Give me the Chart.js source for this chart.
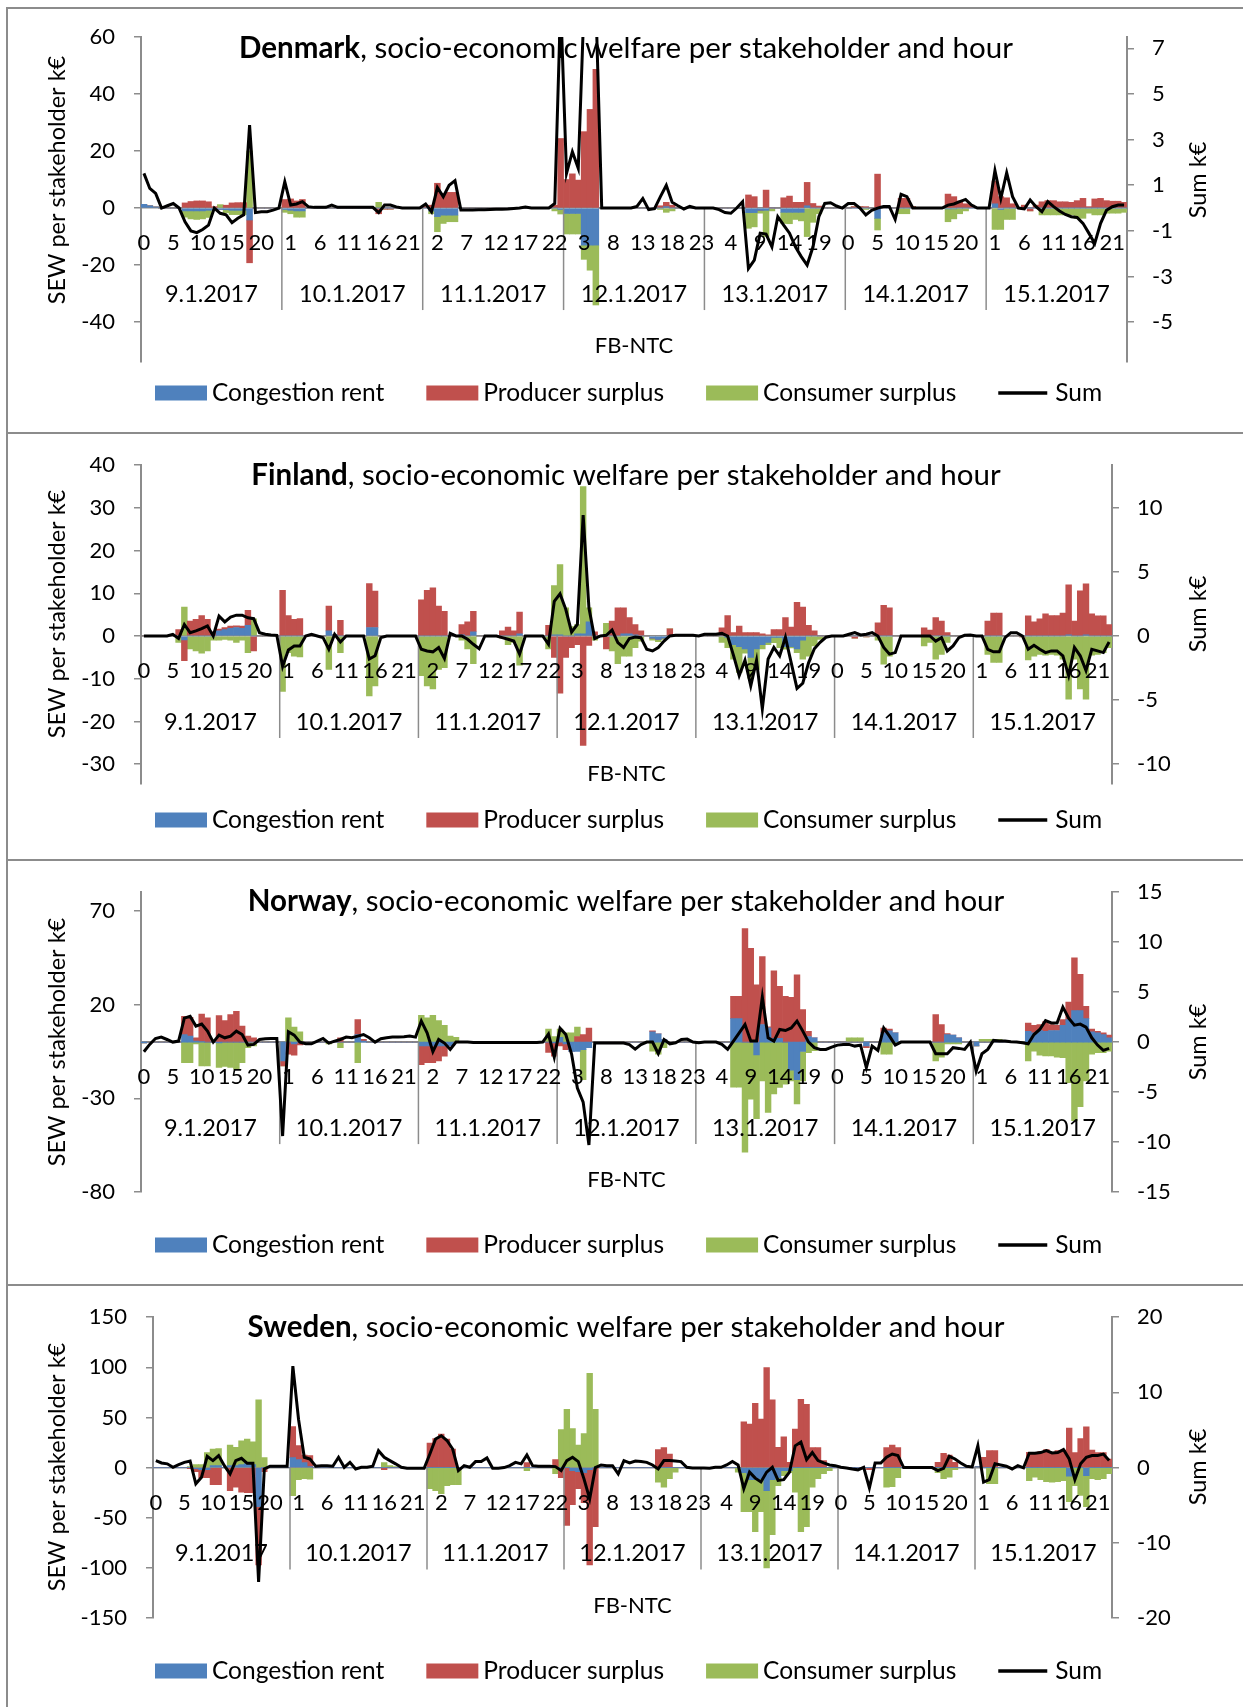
<!DOCTYPE html>
<html>
<head>
<meta charset="utf-8">
<script src="https://cdn.jsdelivr.net/npm/chart.js@4.4.1/dist/chart.umd.min.js"></script>
<style>
    html, body { margin: 0; padding: 0; background: #fff; }
    #page { position: relative; width: 1243px; height: 1707px; overflow: hidden; }
    #page canvas { position: absolute; left: 0; }
    .rule { position: absolute; background: #8c8c8c; }
</style>
</head>
<body>
<div id="page"></div>
<script>
// Kategoriler: 7 gün x 24 saat
const days = ['9.1.2017', '10.1.2017', '11.1.2017', '12.1.2017', '13.1.2017', '14.1.2017', '15.1.2017'];
const hourLabels = ['0','1','2','3','4','5','6','7','8','9','10','11','12','13','14','15','16','17','18','19','20','21','22','23'];
const seriesNames = ['Congestion rent', 'Producer surplus', 'Consumer surplus', 'Sum'];
const axisCaption = 'FB-NTC';
const titleRest = ', socio-economic welfare per stakeholder and hour';
const leftAxisTitle = 'SEW per stakeholder k€';
const rightAxisTitle = 'Sum k€';

// Eksen etiketleri
const dkLeftTicks = [60, 40, 20, 0, -20, -40];
const dkRightTicks = [7, 5, 3, 1, -1, -3, -5];
const fiLeftTicks = [40, 30, 20, 10, 0, -10, -20, -30];
const fiRightTicks = [10, 5, 0, -5, -10];
const noLeftTicks = [70, 20, -30, -80];
const noRightTicks = [15, 10, 5, 0, -5, -10, -15];
const swLeftTicks = [150, 100, 50, 0, -50, -100, -150];
const swRightTicks = [20, 10, 0, -10, -20];

// Denmark
const dkCongestion = [
    1.3,0.8,0.4,0,0,0,0,-1,-1,-1,-1,-0.8,-0.5,-0.5,-0.6,-0.8,-0.8,-0.8,-4.2,0,0,0,0,0,
    -0.5,-0.8,-1,-1,0,0,0,0,0,0,0,0,0,0,0,0,0,0,0,0,0,0,0,0,
    0,-1,-3,-2.5,-2.5,-2.5,0,0,0,0,0,0,0,0,0,0,0,0,0,0,0,0,0,-0.5,
    -1.9,-1.9,-1.9,-13,-13,-13,0,0,0,0,0,0,0,0,0,0,0,0.5,0,0,0,0,0,0,
    0,0,0,0,0,0,0,-1.6,-1.6,-0.8,-0.8,0,0,-1.5,-1.5,-1.5,-1.5,0.8,0,0,0,0,0,0,
    0,0,0,0,0,-3.6,0,0,0,0,0,0,0,0,0,0,0,-0.3,-0.3,0,0,0,0,0,
    0,1.5,-0.5,0,0,0,0,0,0,0,0,0,0,0,0,0,0,0,0,0,0,0,0,0
];
const dkProducer = [
    0,0,0,0,0,0,0,1.8,2.3,2.5,2.5,2.2,0.5,0,1,1.8,1.9,1.9,-15,0,0,0,0,0,
    3,3.2,2.5,3,0,0,0,0,0,0,0,0,0,0,0,0,-2,-0.4,-0.4,0,0,0,0,0,
    0.5,1,8.7,5,5.5,5.5,0,0,0,0,0,0,0,0,0,0,0,0,0,0,0,0,1,24.4,
    10,12,9.8,26.8,34.6,48.7,0,0,0,0,0,0,0,0,0,0,0.8,1.5,1,0,0,0,0,0,
    0,0,0,0,0,0,0,4.6,4,0,6.3,0,0,3.6,4.2,2,2,8.2,1.6,0.7,0,0,0,0,
    0,0.5,0.5,0.5,0,11.9,0,0,0,3.4,3.4,0.5,0,0,0,0,0,4.9,4,2.5,1.5,1,0,0,
    0,8,4,3.6,1.5,0,1,-1,1,2.2,2.6,2.6,2.2,2.2,2,2.6,3.4,0.5,3.2,3.4,2.6,2.4,2.4,2
];
const dkConsumer = [
    0,0,0,0,0,0,0,-2.2,-2.8,-3,-2.8,-2.5,0,1.2,-1,-1.5,-1.5,-1.5,20,0,0,0,0,0,
    -1,-1.2,-2.2,-2.2,0,0,0,0,0,0,0,0,0,0,0,0,2,0,0,0,0,0,0,0,
    0,-1,-5.3,-2.9,-2.3,-2.3,0,0,0,0,0,0,0,0,0,0,0,0,0,0,0,0,-1,-1.6,
    -7.2,-7.2,-7.2,-5,-8.8,-21,0,0,0,0,0,0,0,0,0,0,-0.5,-1.5,-1,0,0,0,0,0,
    0,0,0,0,0,0,0,-5.5,-5,-1,-9.2,-1,0,-3.9,-4,-2.5,-3,-10,-5,-2,0,0,0,0,
    0,0,0,-0.5,0,-4.1,0,0,0,-2,-2,0,0,0,0,0,0,-4.5,-3.5,-2,-1,0,0,0,
    0,-7.5,-7,-4,-4,0,0,0,0,-2.4,-2.4,-2.4,-2.4,-2.4,-2.4,-3.6,-3.6,-1.8,-2.4,-2.4,-1.8,-1.8,-1.8,-1.5
];
const dkSum = [
    1.52,0.86,0.64,0,0.1,0.2,0,-0.6,-1.0,-1.08,-0.94,-0.75,0,-0.23,-0.3,-0.64,-0.45,-0.3,3.64,-0.2,-0.16,-0.16,-0.09,0,
    1.15,0.13,0.18,0.28,0.06,0.03,0.03,0.03,0.13,0.03,0.03,0.03,0.03,0.03,0.03,0.03,-0.2,0.13,0.13,0.05,0,0,0,0,
    0.18,-0.16,0.9,0.5,1.0,1.2,-0.08,-0.08,-0.08,-0.07,-0.07,-0.06,-0.05,-0.05,-0.04,-0.02,0,0.05,0,0,0,0,0.2,9,
    1.52,2.47,1.74,9,10,9,0,0,0,0,0,0,0.07,0.42,-0.07,-0.03,0.5,1.0,0.25,0.1,-0.04,0.07,0,0,
    0,0,-0.07,-0.2,-0.23,0,0.28,-2.65,-2.28,-1.1,-1.14,-1.7,-0.38,-0.75,-1.1,-1.7,-2.13,-2.5,-1.7,-0.38,0.2,0.23,0.09,0,
    0.2,0.2,0,-0.3,-0.1,0,0.07,0.07,-0.5,0.6,0.5,0,0,0,0,0,0,0.13,0.18,0.28,0.38,0.13,0,0,
    0,1.64,0.42,1.55,0.5,0,-0.04,0.35,0.06,-0.16,0.28,0.06,-0.13,-0.28,-0.38,-0.41,-0.67,-1.1,-1.55,-0.67,-0.1,0.06,0.13,0.13
];

// Finland
const fiCongestion = [
    0,0,0,0,0,0,0,-0.9,0,0,0,0,0,1.2,1.5,1.8,2,1.8,2.5,0,0,0,0,0,
    0,0,0,0,0,0,0,0,1.2,0.3,0,0,0,0,0,2,2,0,0,0,0,0,0,0,
    0,0,0,0,0,0,0,0.3,0,1,0,0,0,0,0,0,0,0.5,0,0,0,0,0,0.3,
    0.3,0,0,0.5,0.5,3.3,0,0,0,0,0,0.5,0.5,0.3,0,0,-0.5,-0.8,-0.5,0,0,0,0,0,
    0,0,0,0,0,-0.3,-2,-2.5,-3,-5,-3,-2,-1.5,-0.3,-0.3,-2.5,-2.5,-3,-1,0,0,0,0,0,
    0,0,0,0,0,0,0,0,0,0,0,0,0,0,0,0,0,0,0,0,0,0,0,0,
    0,0,0,0,0,0,0,0,0,0,0,0,0,0,0,0,0.3,0,0,0.3,0,0,0,0
];
const fiProducer = [
    0,0,0,0,0,0,1.5,-4.9,3.5,3.9,4.8,3.9,1,0.4,0.5,0.5,0.4,0.5,3.5,-3.5,0,0,0,0,
    10.7,4.8,3.9,4.1,0,0,0,0,5.8,0,3.7,0,0,0,0,10.3,8.5,0,0,0,0,0,0,0,
    8.5,10.7,11.3,7,5.8,0,0,2.4,3.3,4.8,0,0,0,0,1.2,2.1,1.2,5.1,0,0,0,0,2.5,-5,
    -13.4,-5,-2.7,-2,-25.6,-2.2,1,0,-3,3.5,6.6,6.1,3.8,2.4,1.2,0,0,0,0,1.7,0,0,0,0,
    0,0,0,0,1.9,4.8,0.8,2.3,0.8,0.8,0.8,0.5,0.3,1.5,1.5,4.3,2.1,7.9,6.8,2.5,1.2,0,0,0,
    0,0,0,-0.5,0,-0.2,0,3.1,7.2,6.6,0,0,0,0,0,1.9,1.4,4.3,3.5,0.8,0,0,0,0,
    0,0,3.5,5.4,5.4,0,0,0,-0.2,4.7,3.3,4,5.2,4.8,4.8,5.4,11.7,3.5,10.6,11.9,5.2,4.7,4.7,2.7
];
const fiConsumer = [
    0,0,0,0,0,0,-1.5,6.8,-3,-3.5,-4,-3.5,-1,-1,-0.8,-1,-1.5,-1,-3.9,4,0,0,0,0,
    -13,-3.9,-4.7,-4.9,0,0,0,0,-7.8,0,-3.9,0,0,0,0,-14,-11.7,0,0,0,0,0,0,0,
    -9.3,-11.7,-12.4,-7.8,-7.4,0,0,-1,-3,-6.5,0,0,0,0,-0.5,-2,-1.5,-6.8,0,0,0,0,-3,11.5,
    16.4,6.6,2.2,2.2,34.5,3.3,-1,0,3,-3.5,-6.5,-4.7,-4.7,-2.7,-1.2,0,-0.5,-0.5,-0.3,0,0,0,0,0,
    0,0,0,0,-1.5,-2.4,-3.4,-6,-1,-5,-4.8,-1,-0.5,-1.25,-2.4,-0.6,-0.3,-0.9,-4.4,-4.7,-2.3,-0.8,0,0,
    0,0,0,0,0,0,0,-1,-6.6,-4.7,0,0,0,0,0,-2.3,-1.5,-5.4,-4.3,-1.5,0,0,0,0,
    0,0,-4.3,-6.2,-6.2,0,0,0,0,-5.6,-4.7,-4.3,-4.5,-4.3,-4.5,-5.4,-14.8,-5.4,-12.4,-14.8,-4.5,-4.3,-3.9,-2.7
];
const fiSum = [
    0,0,0,0,0,0.13,-0.2,0.9,0.26,0.4,0.57,0.78,0,1.55,1.1,1.48,1.63,1.63,1.42,1.35,0.26,0.13,0.08,0.05,
    -2.38,-1.09,-0.78,-0.78,0,0.13,0,-0.13,-1.04,0.13,-0.47,0,0,0,0,-1.8,-1.55,-0.13,0,0,0,0,0,0,
    -1.04,-1.17,-1.24,-0.9,-1.76,0.2,0,0,-0.26,-0.65,-1.0,0,0,0,-0.13,-0.26,-0.4,-1.42,0,0,0,0,-0.65,2.7,
    3.3,2.07,0.3,0.9,9.46,2.2,-0.2,0,0.05,0.47,-0.52,-0.9,-0.2,-0.08,-0.13,-1.04,-1.17,-0.9,-0.4,0,0.05,0.05,0.05,0.05,
    0,0.13,0.13,0.13,0.2,0,-1.5,-3.1,-1.9,-3.9,-1.9,-5.7,-1.8,-0.9,-1.55,-0.1,-2.1,-4.1,-3.7,-2.1,-1.0,-0.5,-0.1,0,
    0,0,0.13,0.26,0.08,0.13,0.26,0,-0.9,-1.42,-1.3,0,0,0,0,0,0,-0.4,-0.13,-1.17,-0.78,-0.13,0.05,0.08,
    0,0,-1.04,-1.24,-1.24,-0.13,0.26,0.26,0,-1.04,-0.73,-1.04,-1.3,-1.17,-1.17,-1.55,-3.1,-0.9,-1.55,-2.7,-1.04,-1.17,-1.3,-0.47
];

// Norway
const noCongestion = [
    -0.5,0,0,0,0,0,0,4,3.2,0.5,0.3,0,0,-0.5,0,0,0,0,0,0,0,0,0,0,
    -10,0,-1,0,0,0,0,0,0,0,0,0,0,4,0.5,0,0,0,0,0,0,0,0,0,
    -2,-2,-2,-2,-2,-2,0,0,0,0,0,0,0,0,0,0,0,0,0,0,0,0,0,-0.5,
    2.5,-1,-5,-5,-4,-3,0,0,0,0,0,0,0,0,0,0,5.5,4.4,1.4,0,0,0,0,0,
    0,0,0,0,0,0,12.5,12.5,0,0,-6.9,9.4,7.6,2,2,0,-15,-20,-5,3,2.3,0,0,0,
    0,0,0,0,0,-2,0,0,5,6,5,0,0,0,0,0,0,0,0,4,3.7,2.3,0,0,
    -2,0,0,0,0,0,0,0,0,5.8,5,6.2,5.8,6.2,6.2,9,12,16.8,16.8,12.5,5.5,4.9,4,2.3
];
const noProducer = [
    0,0,0,0,0,0,0,9.8,10,1.8,14.7,12.9,0,14.1,11.5,14.7,16.4,8.5,3.2,2.3,0,0,0,0,
    -2.7,-6.5,-6,-1.5,0,0,0,0,0,0,2.3,0,0,8,1,0,0,0,0,0,0,0,0,0,
    -10,-9,-9,-8,-5.5,0,0,0,0,0,0,0,0,0,0,0,0,0,0,0,0,0,-5.5,-7,
    -2,-3,0,3,4,7.5,0,0,0,0,0,0,0,0,0,0,0.5,0,0,0,0,0,0,0,
    0,0,0,0,0,0,11.9,11.9,60.6,50,30.6,36.2,0.5,36,27.7,24.4,23.9,35.9,17.3,2.8,0,0,0,0,
    0,0,0,0,0,-1,0,0,2.5,1,0,0,0,0,0,0,0,14.7,9.4,0.5,0,0,0,0,
    0,0,0,0,0,0,0,0,0,4.4,4,3.2,5.2,3.2,2.8,3,9.4,28.2,19.4,6.6,1.5,0.9,0.9,1.4
];
const noConsumer = [
    0,0,0,0,0,0,0,-11,-11,-1,-12.7,-12.7,0,-13,-13,-13.5,-14.5,-11,-3,-2,0,0,0,0,
    0,12.9,8,5.5,0,0,0,0,-1,0,-3,0,0,-11,0,0,0,0,0,0,0,0,0,0,
    14.3,12.9,14.3,11.5,9,3.2,2.6,0,0,0,0,0,0,0,0,0,0,0,0,0,0,0,7,3,
    4.5,5,5,5,-16,0,0,0,0,0,0,0,0,0,0,0,-4.8,-6.5,-3,0,0,0,0,0,
    0,0,0,0,0,0,-24,-24,-58.7,-30.4,-34,-20.7,-37.5,-27.7,-24.2,-22.4,-5.7,-13,-15.7,-5.7,-4.6,0,0,0,
    0,0,2.3,2.3,2.3,0,0,0,-6.5,-6.5,-1,0,0,0,0,0,0,-10,-8,-1,-1,-1,0,0,
    0,1.5,1.5,1.5,1.5,0,0,0,0,-10,-4.8,-7,-7.4,-7.4,-8,-8.3,-21.6,-41.9,-34.5,-20.7,-6.5,-5.7,-5.7,-4.8
];
const noSum = [
    -0.96,-0.23,0.36,0.5,0.26,0,0.1,2.4,2.58,1.6,1.8,1.1,0,0.7,0.43,0.6,1.1,0.76,-0.3,-0.23,0.26,0.33,0.36,0.36,
    -9.4,1.03,0.7,0,-0.17,-0.17,0.1,0.36,-0.1,0.1,0.26,0.5,0.43,0.6,0.76,0.43,0,0.33,0.43,0.5,0.5,0.53,0.6,0.5,
    2.1,0.93,-0.96,0.26,-0.1,-0.73,0,0,0,-0.05,-0.05,-0.05,-0.05,-0.05,-0.05,-0.05,-0.05,-0.05,-0.05,-0.05,-0.05,0,0.8,-1.5,
    1.4,0.76,-1.2,-4.6,-6,-10.3,-0.1,-0.1,-0.1,-0.1,-0.1,-0.1,-0.25,-0.7,-0.25,0,0,-1.15,0.26,-0.17,-0.07,0.26,0.3,0,
    -0.07,0,0,0,-0.23,-0.73,0.1,0.93,1.75,0.1,0.1,4.5,0.43,0.1,1.26,1.16,1.42,2.1,1.1,0,-0.56,-0.73,-0.73,-0.5,
    -0.3,-0.23,-0.23,-0.4,-0.3,-2.55,-0.4,-0.83,1.42,0.6,-0.3,0,0,0,0,0,0,-1.16,-1.16,-1.16,-0.56,-0.63,-0.73,0,
    -2.9,-1.16,-0.73,0.17,0.1,0.1,0.03,0,-0.07,-0.17,0.76,1.26,2.15,1.92,1.92,3.5,2.4,1.7,1.8,1.5,0.43,-0.3,-0.83,-0.63
];

// Sweden
const swCongestion = [
    0,0,0,0,0,0,0,-1,-2,-2,2,2,0,2,2,3,4,3,-39,0,0,0,0,0,
    10,8,5,1,0,0,0,0,0,0,0,0,0,0,0,0,0,0,0,0,0,0,0,0,
    0,0,0,0,0,0,0,0,0,0,0,0,0,0,0,0,0,0,0,0,0,0,0,0,
    0,-3,-4,-5,-2,0,0,0,0,0,0,0,0,0,0,0,0,0,0,0,0,0,0,0,
    0,0,0,0,0,0,0,-5,-12,-12,-11,-23,-12,-10,-3,-3,0,0,0,0,0,0,0,0,
    0,0,0,0,0,0,0,0,0,0,0,0,0,0,0,0,0,0,0,0,0,0,0,0,
    1,0,0,0,0,0,0,0,0,0,0,0,0,0,0,0,-8.6,0,0,-8,0,0,0,0
];
const swProducer = [
    0,0,0,0,0,0,-1,-3,-8,-8,-17,-17,0,-23,-19.5,-24.5,-25,-25,-58,-4,0,0,0,0,
    31,14,7.5,11,0,0,0,0,0,0,0,0,0,0,0,0,-2,0,0,0,0,0,0,0,
    24.5,29,33.4,28.5,18.5,0,0,0,0,0,0,0,0,0,0,0,0,5,0,0,0,0,8,-10,
    -57.6,-34,-17,-30,-95,-59,0,0,0,0,0,0,0,0,0,0,18,20,13.6,0,0,0,0,0,
    0,0,0,0,0,0,0,45.7,43.4,64.2,48.3,99.7,67.5,20.2,30.8,5.3,38.4,68,63.2,20,20,7,0,0,
    0,0,0,0,0,-2,0,0,20,22.5,20,0,0,0,0,0,0,5.3,14.2,12.6,5.3,0,0,0,
    0,10.3,17,17,0,0,0,0,0,15.2,15,15.9,17.9,15,16.9,17.5,39.4,15,29,40.7,17.5,15,15,8.6
];
const swConsumer = [
    0,0,0,0,0,0,1,3,3,15,16.5,17,0,20.5,18.2,23.8,24.5,22.8,67.5,10,0,0,0,0,
    -28,-12,-11,-11.5,0,0,0,0,0,0,0,0,0,0,0,0,5,2,1,0,0,0,0,0,
    -21,-23,-26,-18,-17,-17,0,0,0,0,0,0,0,0,0,0,0,-3,0,0,0,0,-6,38,
    58,39,22.5,34,94,58,0,0,0,0,0,0,0,0,0,0,-14.6,-19.5,-11,-4.6,0,0,0,0,
    0,0,0,0,0,0,-4.6,-39,-32,-52,-33,-77,-55,-8,-5,-2,-24.5,-64,-59,-19.5,-11,-6,-3,0,
    0,0,0,0,0,0,0,0,-19.5,-19,-10,0,0,0,0,0,0,-5,-11,-9.6,-2,0,0,0,
    0,0,-16,-16,0,0,0,0,0,-13,-9.6,-12,-14,-14.6,-14,-13,-25.4,-18,-27.8,-31,-11,-12,-11,-6
];
const swSum = [
    0.93,0.62,0.5,0.04,0.4,0.7,0.88,-2.16,-1.28,1.5,0.93,1.6,0.26,-0.84,0.93,1.24,0.57,0.57,-15.2,-0.18,0.18,0.18,0.18,0.18,
    13.5,6.4,1.37,1.15,0.18,0.26,0.26,0.18,1.37,0.04,0.7,-0.18,0.04,0.04,0.18,2.25,1.37,0.93,0.5,0.04,-0.09,-0.09,-0.09,-0.09,
    1.8,3.8,4.24,3.6,2.47,-0.4,0.26,0.04,0.8,0.8,1.28,-0.09,-0.09,0,0.26,0.7,0.5,1.68,0.26,0.18,0.18,0.18,0.13,-0.4,
    0.93,1.37,0.8,-1.5,-4.15,0,0.35,0.26,0.26,-0.84,0.93,0.62,0.88,0.8,0.7,0.35,-0.18,0.93,0.93,0.88,0.8,0.04,-0.04,-0.04,
    -0.04,-0.09,0.04,0.04,0.35,0.8,0.35,-2.8,-0.6,-1.4,-1.9,-0.6,0.04,-1.7,-1.6,-0.6,2.9,3.4,1.06,2.0,0.93,0.62,0.35,0.26,
    0.04,-0.04,-0.18,-0.3,0.04,-2.7,0.6,0.6,1.37,1.8,1.6,0,0,0,0,0,0,-0.4,-0.09,1.5,1.15,0.62,0.18,0.09,
    2.9,-1.94,-1.6,0.5,0.35,0.18,-0.18,0.26,-0.04,1.9,1.9,2.0,2.25,1.94,2.0,2.4,1.15,-1.6,0.5,1.37,1.6,1.6,1.8,0.93
];

// Görünüm ayarları
const seriesColors = ['#4F81BD', '#C0504D', '#9BBB59', '#000000'];
const axisGray = '#8c8c8c';
const fontFamily = 'Lato';
Chart.defaults.font.family = fontFamily;
Chart.defaults.font.size = 22;
Chart.defaults.color = '#000';

// Her kategori etiketi = saat (gün ayrıca çiziliyor)
const categoryLabels = [];
days.forEach(() => hourLabels.forEach(h => categoryLabels.push(h)));

const panels = [
    { name: 'Denmark', top: 0, height: 433, area: [37, 362, 141, 1127],
      yMin: -54, yMax: 60, yTicks: dkLeftTicks, y2Min: -6.75, y2Max: 7.5, y2Ticks: dkRightTicks,
      titleY: 48, axisTitleY: 180, legendY: 393,
      series: [dkCongestion, dkProducer, dkConsumer, dkSum] },
    { name: 'Finland', top: 433, height: 427, area: [30, 351, 141, 1112],
      yMin: -34.65, yMax: 40, yTicks: fiLeftTicks, y2Min: -11.58, y2Max: 13.36, y2Ticks: fiRightTicks,
      titleY: 42, axisTitleY: 181, legendY: 387,
      series: [fiCongestion, fiProducer, fiConsumer, fiSum] },
    { name: 'Norway', top: 860, height: 425, area: [30, 332, 141, 1112],
      yMin: -80, yMax: 80, yTicks: noLeftTicks, y2Min: -15, y2Max: 15, y2Ticks: noRightTicks,
      titleY: 41, axisTitleY: 182, legendY: 385,
      series: [noCongestion, noProducer, noConsumer, noSum] },
    { name: 'Sweden', top: 1285, height: 422, area: [31, 333, 153, 1112],
      yMin: -150, yMax: 150, yTicks: swLeftTicks, y2Min: -20, y2Max: 20, y2Ticks: swRightTicks,
      titleY: 42, axisTitleY: 182, legendY: 386,
      series: [swCongestion, swProducer, swConsumer, swSum] }
];

// Günler, başlık, eksen başlıkları ve açıklama kutusu
function makeDecor(p) {
    return {
        id: 'decor',
        beforeDatasetsDraw(chart) {
            const { ctx } = chart;
            ctx.save();
            ctx.fillStyle = '#000';
            ctx.textBaseline = 'middle';

            // Grafik başlığı
            ctx.font = `bold 29.5px ${fontFamily}`;
            const w1 = ctx.measureText(p.name).width;
            ctx.font = `29.5px ${fontFamily}`;
            const w2 = ctx.measureText(titleRest).width;
            const tx = 626 - (w1 + w2) / 2;
            ctx.textAlign = 'left';
            ctx.font = `bold 29.5px ${fontFamily}`;
            ctx.fillText(p.name, tx, p.titleY);
            ctx.font = `29.5px ${fontFamily}`;
            ctx.fillText(titleRest, tx + w1, p.titleY);

            // Eksen başlıkları
            ctx.textAlign = 'center';
            ctx.font = `23.5px ${fontFamily}`;
            [[57, leftAxisTitle], [1198, rightAxisTitle]].forEach(([cx, txt]) => {
                ctx.save();
                ctx.translate(cx, p.axisTitleY);
                ctx.rotate(-Math.PI / 2);
                ctx.fillText(txt, 0, 0);
                ctx.restore();
            });
            ctx.restore();
        },
        // Çubuklardan sonra, çizgiden önce: kategori etiketleri çubukların üstünde kalsın
        afterDatasetDraw(chart, args) {
            if (args.index !== 1) return;
            const { ctx, chartArea: a, scales: { x, y } } = chart;
            const zero = y.getPixelForValue(0);
            ctx.save();
            ctx.strokeStyle = axisGray;
            ctx.lineWidth = 1.5;
            for (let d = 1; d < days.length; d++) {
                const px = x.getPixelForValue(d * 24 - 0.5);
                ctx.beginPath();
                ctx.moveTo(px, zero);
                ctx.lineTo(px, zero + 102);
                ctx.stroke();
            }
            ctx.fillStyle = '#000';
            ctx.textAlign = 'center';
            ctx.textBaseline = 'middle';
            ctx.font = `22px ${fontFamily}`;
            categoryLabels.forEach((lab, i) => {
                if (i % 5 === 0) ctx.fillText(lab, x.getPixelForValue(i), zero + 35);
            });
            ctx.font = `23.5px ${fontFamily}`;
            days.forEach((d, k) => ctx.fillText(d, x.getPixelForValue(k * 24 + 11.5), zero + 86));
            ctx.font = `22px ${fontFamily}`;
            ctx.fillText(axisCaption, (a.left + a.right) / 2, zero + 138);
            ctx.restore();
        },
        afterDraw(chart) {
            const { ctx } = chart;
            ctx.save();
            ctx.font = `24.5px ${fontFamily}`;
            ctx.textAlign = 'left';
            ctx.textBaseline = 'middle';
            let lx = 155;
            const ly = p.legendY;
            seriesNames.forEach((name, k) => {
                if (k < 3) {
                    ctx.fillStyle = seriesColors[k];
                    ctx.fillRect(lx, ly - 7.5, 52, 15);
                } else {
                    ctx.strokeStyle = seriesColors[k];
                    ctx.lineWidth = 3.5;
                    ctx.beginPath();
                    ctx.moveTo(lx, ly);
                    ctx.lineTo(lx + 49, ly);
                    ctx.stroke();
                }
                lx += 57;
                ctx.fillStyle = '#000';
                ctx.fillText(name, lx, ly);
                lx += ctx.measureText(name).width + 42;
            });
            ctx.restore();
        }
    };
}

const page = document.getElementById('page');

panels.forEach(p => {
    const canvas = document.createElement('canvas');
    canvas.width = 1243;
    canvas.height = p.height;
    canvas.style.top = p.top + 'px';
    page.appendChild(canvas);

    const [top, bottom, left, right] = p.area;

    new Chart(canvas.getContext('2d'), {
        data: {
            labels: categoryLabels,
            datasets: [
                {
                    type: 'line',
                    label: seriesNames[3],
                    data: p.series[3],
                    yAxisID: 'y2',
                    borderColor: seriesColors[3],
                    borderWidth: 3,
                    pointRadius: 0,
                    tension: 0
                },
                ...[0, 1, 2].map(k => ({
                    type: 'bar',
                    label: seriesNames[k],
                    data: p.series[k],
                    yAxisID: 'y',
                    backgroundColor: seriesColors[k],
                    borderWidth: 0,
                    barPercentage: 1,
                    categoryPercentage: 1
                }))
            ]
        },
        options: {
            responsive: false,
            animation: false,
            devicePixelRatio: 1,
            layout: { padding: { top: top, bottom: p.height - bottom, left: 0, right: 0 } },
            plugins: {
                legend: { display: false },
                tooltip: { enabled: false }
            },
            scales: {
                x: {
                    type: 'category',
                    stacked: true,
                    offset: true,
                    position: { y: 0 },
                    grid: { display: false, drawTicks: false },
                    border: { display: true, color: axisGray, width: 1.5 },
                    ticks: { display: false }
                },
                y: {
                    position: 'left',
                    stacked: true,
                    min: p.yMin,
                    max: p.yMax,
                    afterFit: s => { s.width = left; },
                    afterBuildTicks: s => { s.ticks = p.yTicks.map(v => ({ value: v })); },
                    grid: { drawOnChartArea: false, drawTicks: true, tickLength: 7, color: axisGray, lineWidth: 1.5 },
                    border: { display: true, color: axisGray, width: 2 },
                    ticks: { padding: 19 }
                },
                y2: {
                    position: 'right',
                    min: p.y2Min,
                    max: p.y2Max,
                    afterFit: s => { s.width = 1243 - right; },
                    afterBuildTicks: s => { s.ticks = p.y2Ticks.map(v => ({ value: v })); },
                    grid: { drawOnChartArea: false, drawTicks: true, tickLength: 7, color: axisGray, lineWidth: 1.5 },
                    border: { display: true, color: axisGray, width: 2 },
                    ticks: { padding: 18 }
                }
            }
        },
        plugins: [makeDecor(p)]
    });
});

// Panel çerçeveleri
[[6, 7, 2, 1700], [6, 7, 1237, 2], [6, 432, 1237, 2], [6, 859, 1237, 2], [6, 1284, 1237, 2]].forEach(([l, t, w, h]) => {
    const r = document.createElement('div');
    r.className = 'rule';
    r.style.left = l + 'px';
    r.style.top = t + 'px';
    r.style.width = w + 'px';
    r.style.height = h + 'px';
    page.appendChild(r);
});
</script>
</body>
</html>
